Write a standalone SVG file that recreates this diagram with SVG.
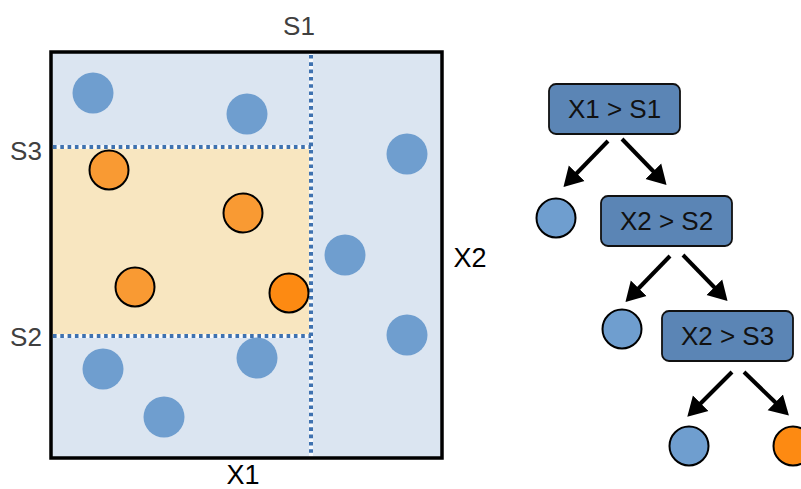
<svg xmlns="http://www.w3.org/2000/svg" width="801" height="489" viewBox="0 0 801 489">
<style>
  .lbl{font-family:"Liberation Sans",Arial,sans-serif;font-size:26px;fill:#404040;text-anchor:middle}
  .axis{font-family:"Liberation Sans",Arial,sans-serif;font-size:27px;fill:#000;text-anchor:middle}
  .pb{fill:#6f9ecf}
  .po{fill:#f99a33;stroke:#000;stroke-width:2}
  .pod{fill:#fd8a12;stroke:#000;stroke-width:2}
  .leafb{fill:#6f9ecf;stroke:#000;stroke-width:2}
  .box{fill:#5b85b5;stroke:#111;stroke-width:1.8}
  .btxt{font-family:"Liberation Sans",Arial,sans-serif;font-size:26px;fill:#111;text-anchor:middle}
  .dotu{stroke:#ffffff;stroke-width:4;opacity:0.8}
  .dot{stroke:#3f72b0;stroke-width:4;stroke-dasharray:3.6 3.7}
  .arr{stroke:#000;stroke-width:4;fill:none;marker-end:url(#ah)}
</style>
<defs>
  <marker id="ah" markerUnits="userSpaceOnUse" markerWidth="20" markerHeight="24" refX="1" refY="11" orient="auto" viewBox="0 0 20 22">
    <path d="M0,0 L19,11 L0,22 z" fill="#000"/>
  </marker>
</defs>
<rect width="801" height="489" fill="#fff"/>

<g id="plot">
  <rect x="51" y="52" width="391" height="406" fill="#dbe5f1"/>
  <rect x="51" y="147" width="260" height="189" fill="#f8e6c0"/>
  <g id="splits">
    <line class="dotu" x1="51" y1="147" x2="311" y2="147"/>
    <line class="dotu" x1="51" y1="336" x2="311" y2="336"/>
    <line class="dotu" x1="311" y1="54" x2="311" y2="456"/>
    <line class="dot" x1="53" y1="147" x2="311" y2="147"/>
    <line class="dot" x1="53" y1="336" x2="311" y2="336"/>
    <line class="dot" x1="311" y1="55" x2="311" y2="456"/>
  </g>
  <g id="points">
    <circle class="pb" cx="93" cy="93" r="20.5"/>
    <circle class="pb" cx="247" cy="114" r="20.5"/>
    <circle class="pb" cx="407" cy="154" r="20.5"/>
    <circle class="pb" cx="345" cy="255" r="20.5"/>
    <circle class="pb" cx="407" cy="335" r="20.5"/>
    <circle class="pb" cx="103" cy="369" r="20.5"/>
    <circle class="pb" cx="257" cy="358" r="20.5"/>
    <circle class="pb" cx="164" cy="417" r="20.5"/>
    <circle class="po" cx="109" cy="170" r="19.5"/>
    <circle class="po" cx="243" cy="213" r="19.5"/>
    <circle class="po" cx="135" cy="287" r="19.5"/>
    <circle class="pod" cx="289" cy="293" r="19.5"/>
  </g>
  <rect x="51" y="52" width="391" height="406" fill="none" stroke="#000" stroke-width="3.5"/>
  <text class="lbl" x="299" y="35">S1</text>
  <text class="lbl" x="26" y="160">S3</text>
  <text class="lbl" x="26" y="346">S2</text>
  <text class="axis" x="243" y="484" font-size="26">X1</text>
  <text class="axis" x="470" y="267">X2</text>
</g>

<g id="connectors">
  <line class="arr" x1="608" y1="141" x2="576" y2="174"/>
  <line class="arr" x1="622" y1="139" x2="654" y2="172"/>
  <line class="arr" x1="670" y1="256" x2="638" y2="289"/>
  <line class="arr" x1="683" y1="255" x2="715" y2="288"/>
  <line class="arr" x1="732" y1="372" x2="700" y2="404"/>
  <line class="arr" x1="744" y1="372" x2="776" y2="403"/>
</g>

<g id="node-x1s1">
  <rect class="box" x="549" y="84" width="131" height="50" rx="7"/>
  <text class="btxt" x="614.5" y="118">X1 &gt; S1</text>
</g>
<g id="leaf-1">
  <circle class="leafb" cx="556" cy="218" r="19.5"/>
</g>
<g id="node-x2s2">
  <rect class="box" x="601" y="196" width="131" height="50" rx="7"/>
  <text class="btxt" x="666.5" y="230">X2 &gt; S2</text>
</g>
<g id="leaf-2">
  <circle class="leafb" cx="622" cy="329" r="19.5"/>
</g>
<g id="node-x2s3">
  <rect class="box" x="662" y="311" width="131" height="50" rx="7"/>
  <text class="btxt" x="727.5" y="345">X2 &gt; S3</text>
</g>
<g id="leaf-3">
  <circle class="leafb" cx="689" cy="446" r="19.5"/>
</g>
<g id="leaf-4">
  <circle class="pod" cx="793" cy="446" r="19.5"/>
</g>
</svg>
